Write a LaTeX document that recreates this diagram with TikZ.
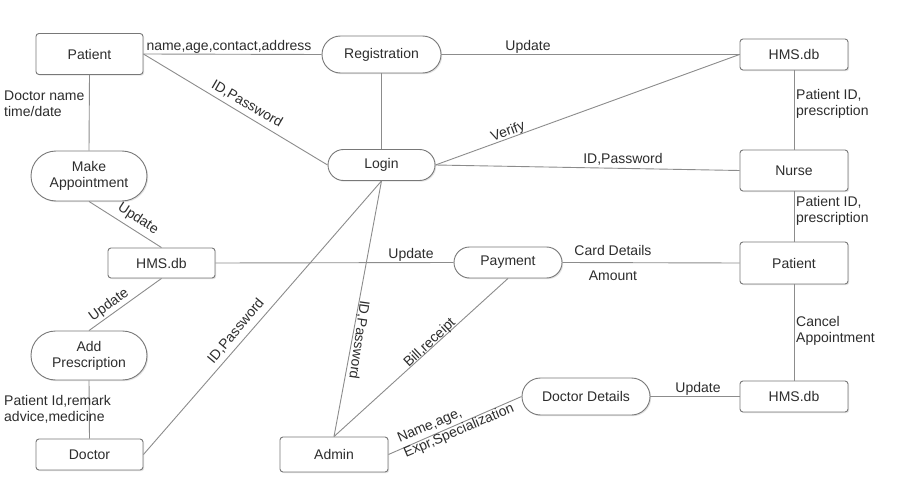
\documentclass[tikz,border=0pt]{standalone}
\usepackage{fontspec}
\setmainfont{Liberation Sans}
\usetikzlibrary{shapes.misc,shadows}
\definecolor{linec}{RGB}{140,140,140}
\definecolor{boxc}{RGB}{120,120,120}
\definecolor{txtc}{RGB}{45,45,45}
\tikzset{
  base/.style={draw=boxc, line width=0.9pt, fill=white, text=txtc, align=center,
    font=\fontsize{14}{16}\selectfont, inner sep=0pt,
    drop shadow={opacity=0.22, shadow xshift=1.2pt, shadow yshift=-1.2pt}},
  box/.style={base, rectangle, rounded corners=3pt},
  pill/.style={base, rounded rectangle},
  conn/.style={draw=linec, line width=0.9pt},
  lbl/.style={text=txtc, font=\fontsize{14}{16}\selectfont, inner sep=0pt},
  lbll/.style={lbl, align=left, anchor=west},
}
\begin{document}
\begin{tikzpicture}[x=1pt,y=-1pt]
\useasboundingbox[fill=white] (0,0) rectangle (913,492);
% nodes
\node[box, minimum width=107pt, minimum height=41pt] (pat) at (89.5,54) {Patient};
\node[pill, minimum width=119pt, minimum height=37pt] (reg) at (381.5,54.5) {Registration};
\node[box, minimum width=108pt, minimum height=31pt] (hmstr) at (794,54.5) {HMS.db};
\node[pill, minimum width=107pt, minimum height=31pt] (login) at (381.5,165) {Login};
\node[box, minimum width=108pt, minimum height=41pt] (nurse) at (794,170.5) {Nurse};
\node[pill, minimum width=116pt, minimum height=50pt] (mk) at (89,176) {Make\\Appointment};
\node[box, minimum width=107pt, minimum height=30pt] (hmsl) at (161.5,263) {HMS.db};
\node[pill, minimum width=108pt, minimum height=31pt] (pay) at (508,262.5) {Payment};
\node[box, minimum width=108pt, minimum height=42pt] (patr) at (794,263) {Patient};
\node[pill, minimum width=116pt, minimum height=49pt] (addp) at (89,355.5) {Add\\Prescription};
\node[box, minimum width=107pt, minimum height=31pt] (doc) at (89.5,454.5) {Doctor};
\node[box, minimum width=108pt, minimum height=35pt] (adm) at (334,454.5) {Admin};
\node[pill, minimum width=128pt, minimum height=37pt] (dd) at (586,396.5) {Doctor Details};
\node[box, minimum width=108pt, minimum height=31pt] (hmsbr) at (794,396.5) {HMS.db};
% connectors
\draw[conn] (pat.east) -- (reg.west);
\draw[conn] (reg.east) -- (hmstr.west);
\draw[conn] (pat.east) -- (login.west);
\draw[conn] (reg.south) -- (login.north);
\draw[conn] (pat.south) -- (mk.north);
\draw[conn] (login.east) -- (hmstr.west);
\draw[conn] (login.east) -- (nurse.west);
\draw[conn] (hmstr.south) -- (nurse.north);
\draw[conn] (nurse.south) -- (patr.north);
\draw[conn] (patr.south) -- (hmsbr.north);
\draw[conn] (mk.south) -- (hmsl.north);
\draw[conn] (hmsl.south) -- (addp.north);
\draw[conn] (addp.south) -- (doc.north);
\draw[conn] (hmsl.east) -- (pay.west);
\draw[conn] (pay.east) -- (patr.west);
\draw[conn] (doc.east) -- (login.south);
\draw[conn] (adm.north) -- (login.south);
\draw[conn] (adm.north) -- (pay.south);
\draw[conn] (adm.east) -- (dd.west);
\draw[conn] (dd.east) -- (hmsbr.west);
% labels
\node[lbl] (l1) at (229,47) {name,age,contact,address};
\node[lbl] (l2) at (528,47) {Update};
\node[lbl, rotate=-30] (l3) at (247,104) {ID,Password};
\node[lbll] (l4) at (4,104) {Doctor name\\time/date};
\node[lbl, rotate=20] (l5) at (508,132) {Verify};
\node[lbl] (l6) at (623,159) {ID,Password};
\node[lbll] (l7) at (796,104) {Patient ID,\\prescription};
\node[lbll] (l8) at (796,211) {Patient ID,\\prescription};
\node[lbl, rotate=-33] (l9) at (138,219) {Update};
\node[lbl, rotate=36] (l10) at (109,305) {Update};
\node[lbl] (l11) at (411,255) {Update};
\node[lbl] (l12) at (613,250) {Card Details};
\node[lbl] (l13) at (613,276) {Amount};
\node[lbll] (l14) at (796,331) {Cancel\\Appointment};
\node[lbl, rotate=50] (l15) at (236,331) {ID,Password};
\node[lbl, rotate=-98] (l16) at (359,340) {ID,Password};
\node[lbl, rotate=43] (l17) at (430,343) {Bill,receipt};
\node[lbll] (l18) at (4,409) {Patient Id,remark\\advice,medicine};
\node[lbl, align=left, rotate=23] (l19) at (456,424) {Name,age,\\Expr,Specialization};
\node[lbl] (l20) at (698,389) {Update};
\end{tikzpicture}
\end{document}
